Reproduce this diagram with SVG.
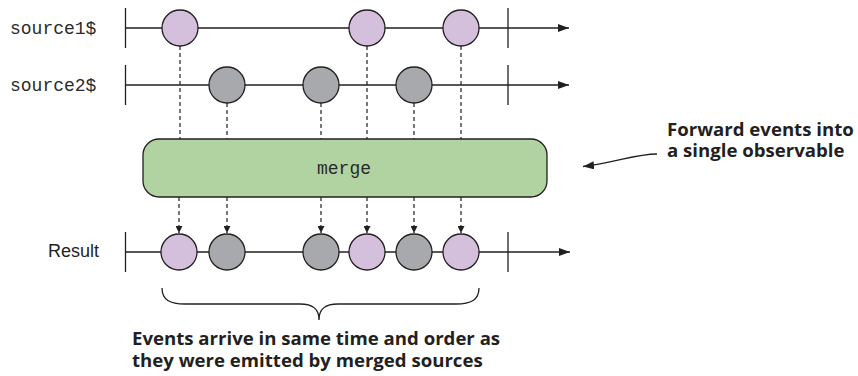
<svg xmlns="http://www.w3.org/2000/svg" width="858" height="376" viewBox="0 0 858 376">
<style>
.line{stroke:#231f20;stroke-width:1.3;fill:none}
.tick{stroke:#231f20;stroke-width:1.3}
.dash{stroke:#231f20;stroke-width:1.2;stroke-dasharray:4,3;fill:none}
.p{fill:#d4c0dd;stroke:#231f20;stroke-width:1.3}
.g{fill:#a7a9ac;stroke:#231f20;stroke-width:1.3}
.mono{font-family:"Liberation Mono",monospace;font-size:18px;fill:#2a2a2a}
.sans{font-family:"Liberation Sans",Arial,sans-serif;font-size:18px;fill:#231f20}
.note{font-family:"Open Sans",Lato,sans-serif;font-weight:bold;font-size:18.6px;fill:#231f20}
</style>
<defs>
<marker id="ah" viewBox="0 0 11 8" refX="11" refY="4" markerWidth="11" markerHeight="8" markerUnits="userSpaceOnUse" orient="auto">
<path d="M0,0 L11,4 L0,8 z" fill="#231f20"/>
</marker>
<marker id="sh" viewBox="0 0 7 7" refX="7" refY="3.5" markerWidth="7" markerHeight="7" markerUnits="userSpaceOnUse" orient="auto">
<path d="M0,0 L7,3.5 L0,7 z" fill="#231f20"/>
</marker>
</defs>
<g id="connectors">
<line class="dash" x1="180" y1="46" x2="180" y2="139"/>
<line class="dash" x1="367" y1="46" x2="367" y2="139"/>
<line class="dash" x1="461" y1="46" x2="461" y2="139"/>
<line class="dash" x1="227" y1="103" x2="227" y2="139"/>
<line class="dash" x1="321" y1="103" x2="321" y2="139"/>
<line class="dash" x1="414" y1="103" x2="414" y2="139"/>
<line class="dash" x1="179" y1="197" x2="179" y2="233" marker-end="url(#sh)"/>
<line class="dash" x1="227" y1="197" x2="227" y2="233" marker-end="url(#sh)"/>
<line class="dash" x1="321" y1="197" x2="321" y2="233" marker-end="url(#sh)"/>
<line class="dash" x1="367" y1="197" x2="367" y2="233" marker-end="url(#sh)"/>
<line class="dash" x1="414" y1="197" x2="414" y2="233" marker-end="url(#sh)"/>
<line class="dash" x1="461" y1="197" x2="461" y2="233" marker-end="url(#sh)"/>
<path class="line" d="M657,154 C635,154 615,163 583,166.5" marker-end="url(#ah)"/>
</g>
<g id="source1">
<text class="mono" x="10" y="34">source1$</text>
<line class="tick" x1="125.5" y1="8" x2="125.5" y2="48"/>
<line class="tick" x1="508" y1="8" x2="508" y2="48"/>
<line class="line" x1="125.5" y1="28" x2="569" y2="28" marker-end="url(#ah)"/>
<circle class="p" cx="180" cy="28" r="18"/>
<circle class="p" cx="367" cy="28" r="18"/>
<circle class="p" cx="461" cy="28" r="18"/>
</g>
<g id="source2">
<text class="mono" x="10" y="91">source2$</text>
<line class="tick" x1="125.5" y1="65" x2="125.5" y2="105"/>
<line class="tick" x1="508" y1="65" x2="508" y2="105"/>
<line class="line" x1="125.5" y1="85" x2="569" y2="85" marker-end="url(#ah)"/>
<circle class="g" cx="227" cy="85" r="18"/>
<circle class="g" cx="321" cy="85" r="18"/>
<circle class="g" cx="414" cy="85" r="18"/>
</g>
<g id="merge">
<rect x="143" y="139" width="404" height="58" rx="16" fill="#b1d2a1" stroke="#231f20" stroke-width="1.3"/>
<text class="mono" x="344" y="174" text-anchor="middle">merge</text>
</g>
<g id="result">
<text class="sans" x="48" y="257">Result</text>
<line class="tick" x1="125.5" y1="232" x2="125.5" y2="272"/>
<line class="tick" x1="508" y1="232" x2="508" y2="272"/>
<line class="line" x1="125.5" y1="252" x2="570" y2="252" marker-end="url(#ah)"/>
<circle class="p" cx="179" cy="252" r="18"/>
<circle class="g" cx="227" cy="252" r="18"/>
<circle class="g" cx="321" cy="252" r="18"/>
<circle class="p" cx="367" cy="252" r="18"/>
<circle class="g" cx="414" cy="252" r="18"/>
<circle class="p" cx="461" cy="252" r="18"/>
</g>
<g id="brace">
<path class="line" d="M162,288 C162,300 170,304 185,304 L300,304 C312,304 319,308 319,320 C319,308 326,304 338,304 L456,304 C471,304 479,300 479,288"/>
</g>
<g id="note-bottom">
<text class="note" x="132" y="345">Events arrive in same time and order as</text>
<text class="note" x="132" y="367">they were emitted by merged sources</text>
</g>
<g id="note-right">
<text class="note" x="667" y="136">Forward events into</text>
<text class="note" x="667" y="157">a single observable</text>
</g>
</svg>
